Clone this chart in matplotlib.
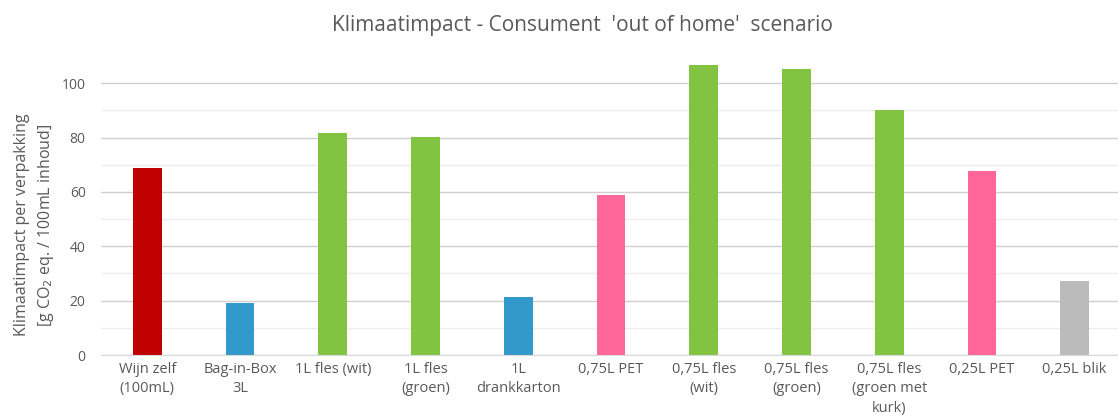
import matplotlib
matplotlib.use("Agg")
import matplotlib.pyplot as plt

# Data
categories = [
    "Wijn zelf\n(100mL)",
    "Bag-in-Box\n3L",
    "1L fles (wit)",
    "1L fles\n(groen)",
    "1L\ndrankkarton",
    "0,75L PET",
    "0,75L fles\n(wit)",
    "0,75L fles\n(groen)",
    "0,75L fles\n(groen met\nkurk)",
    "0,25L PET",
    "0,25L blik",
]
values = [68.8, 19.3, 81.5, 80.1, 21.4, 58.8, 106.6, 105.1, 90.1, 67.7, 27.2]
bar_colors = [
    "#C00000", "#3399CC", "#82C341", "#82C341", "#3399CC", "#FF6699",
    "#82C341", "#82C341", "#82C341", "#FF6699", "#BBBBBB",
]
major_ticks = [0, 20, 40, 60, 80, 100]
minor_ticks = [10, 30, 50, 70, 90]

TEXT_COLOR = "#595959"
plt.rcParams["font.family"] = ["Open Sans", "DejaVu Sans"]

fig = plt.figure(figsize=(11.18, 4.19), dpi=100)
fig.patch.set_facecolor("white")

# axes spans slightly past the right edge, like the cropped original
ax = fig.add_axes([101 / 1118, 64 / 419, 1020 / 1118, 299 / 419])

x = list(range(len(categories)))
ax.bar(x, values, width=0.31, color=bar_colors, zorder=3)

ax.set_xlim(-0.5, len(categories) - 0.5)
ax.set_ylim(0, 110)
ax.set_yticks(major_ticks)
ax.set_yticks(minor_ticks, minor=True)
ax.grid(which="major", axis="y", color="#CFCFCF", linewidth=1.0, zorder=0)
ax.grid(which="minor", axis="y", color="#EDEDED", linewidth=1.0, zorder=0)

ax.set_xticks(x)
ax.set_xticklabels(categories, fontsize=10.5, color=TEXT_COLOR, linespacing=1.4)
ax.tick_params(axis="x", length=0, pad=5)
ax.tick_params(axis="y", which="both", length=0, pad=11, labelsize=10, labelcolor=TEXT_COLOR)

for side in ["top", "right", "left"]:
    ax.spines[side].set_visible(False)
ax.spines["bottom"].set_color("#D9D9D9")
ax.spines["bottom"].set_zorder(4)

fig.text(582 / 1118, 1 - 25 / 419, "Klimaatimpact - Consument  'out of home'  scenario",
         ha="center", va="center", fontsize=15, color=TEXT_COLOR)

fig.text(35 / 1118, 1 - 225 / 419,
         "Klimaatimpact per verpakking\n[g CO$_2$ eq. / 100mL inhoud]",
         rotation=90, ha="center", va="center", fontsize=11.5,
         color=TEXT_COLOR, multialignment="center", linespacing=1.45)

fig.savefig("out.png", dpi=100, facecolor="white")
